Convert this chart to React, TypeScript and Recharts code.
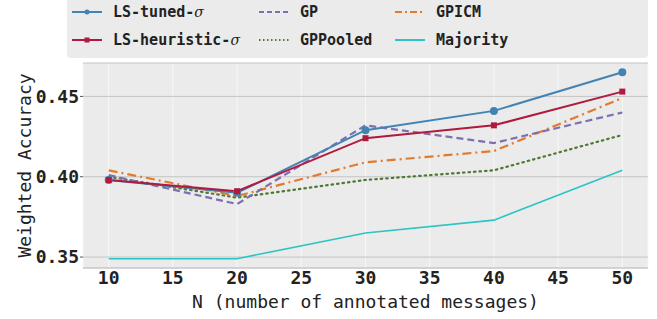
import { LineChart, Line, XAxis, YAxis, CartesianGrid } from "recharts";

// x positions (number of annotated messages)
const nValues = [10, 20, 30, 40, 50];
const lsTuned = [0.398, 0.39, 0.429, 0.441, 0.465];
const lsHeuristic = [0.398, 0.391, 0.424, 0.432, 0.453];
const gp = [0.401, 0.383, 0.432, 0.421, 0.44];
const gpicm = [0.404, 0.388, 0.409, 0.416, 0.449];
const gpPooled = [0.4, 0.387, 0.398, 0.404, 0.426];
const majority = [0.349, 0.349, 0.365, 0.373, 0.404];

const xTicks = [10, 15, 20, 25, 30, 35, 40, 45, 50];
const yTicks = [0.35, 0.4, 0.45];

const FARBE = {
  tuned: "#4383b4",
  heuristic: "#b01a3e",
  gp: "#7d6fb0",
  gpicm: "#e27a2e",
  pooled: "#4c7a32",
  majority: "#2cc4c4",
};

const MONO = "'DejaVu Sans Mono', monospace";

const daten = nValues.map((n, i) => ({
  n,
  lsTuned: lsTuned[i],
  lsHeuristic: lsHeuristic[i],
  gp: gp[i],
  gpicm: gpicm[i],
  gpPooled: gpPooled[i],
  majority: majority[i],
}));

function SquareDot(props: any) {
  const { cx, cy } = props;
  if (cx == null || cy == null) return null;
  return <rect x={cx - 3} y={cy - 3} width={6} height={6} fill={FARBE.heuristic} />;
}

function Sample({ color, dash, marker }: { color: string; dash?: string; marker?: "o" | "s" }) {
  return (
    <svg width={32} height={10} style={{ display: "block" }}>
      <line x1={1} y1={5} x2={31} y2={5} stroke={color} strokeWidth={2} strokeDasharray={dash} />
      {marker === "o" && <circle cx={16} cy={5} r={2.5} fill={color} />}
      {marker === "s" && <rect x={13.5} y={2.5} width={5} height={5} fill={color} />}
    </svg>
  );
}

function Item({
  x,
  y,
  label,
  sigma,
  sample,
}: {
  x: number;
  y: number;
  label: string;
  sigma?: boolean;
  sample: React.ReactNode;
}) {
  return (
    <div style={{ position: "absolute", left: x, top: y - 10, height: 20, display: "flex", alignItems: "center" }}>
      {sample}
      <span
        style={{
          marginLeft: 10,
          fontFamily: MONO,
          fontWeight: "bold",
          fontSize: 15,
          color: "#222",
          whiteSpace: "nowrap",
        }}
      >
        {label}
        {sigma && (
          <span style={{ fontFamily: "'DejaVu Serif', serif", fontStyle: "italic", fontWeight: "normal", fontSize: 14 }}>
            σ
          </span>
        )}
      </span>
    </div>
  );
}

function Legende() {
  return (
    <div
      style={{
        position: "absolute",
        left: 67,
        top: -4,
        width: 581,
        height: 62,
        background: "#ebebeb",
        borderRadius: 4,
      }}
    >
      <Item x={4} y={16} label="LS-tuned-" sigma sample={<Sample color={FARBE.tuned} marker="o" />} />
      <Item x={4} y={44} label="LS-heuristic-" sigma sample={<Sample color={FARBE.heuristic} marker="s" />} />
      <Item x={191} y={16} label="GP" sample={<Sample color={FARBE.gp} dash="5 3" />} />
      <Item x={191} y={44} label="GPPooled" sample={<Sample color={FARBE.pooled} dash="1.5 2.5" />} />
      <Item x={327} y={16} label="GPICM" sample={<Sample color={FARBE.gpicm} dash="7 3 2 3" />} />
      <Item x={327} y={44} label="Majority" sample={<Sample color={FARBE.majority} />} />
    </div>
  );
}

export default function App() {
  return (
    <div style={{ position: "fixed", left: 0, top: 0, width: 657, height: 319, background: "#fff" }}>
      <LineChart width={657} height={319} data={daten} margin={{ top: 63, right: 9, bottom: 0, left: 0 }}>
        <CartesianGrid horizontal={false} stroke="#f7f7f7" fill="#ebebeb" />
        <CartesianGrid vertical={false} stroke="#c4c4c4" />
        <XAxis
          dataKey="n"
          type="number"
          domain={[8, 52]}
          ticks={xTicks}
          height={51}
          tickLine={false}
          tickSize={0}
          axisLine={{ stroke: "#c8c8c8" }}
          tickMargin={3}
          tick={{ fontFamily: MONO, fontWeight: "bold", fontSize: 18, fill: "#222" }}
          label={{
            value: "N (number of annotated messages)",
            position: "insideBottom",
            offset: 11,
            style: { fontFamily: MONO, fontSize: 18, fill: "#222" },
          }}
        />
        <YAxis
          type="number"
          domain={[0.3432, 0.4708]}
          ticks={yTicks}
          width={83}
          tickFormatter={(v: number) => v.toFixed(2)}
          tickSize={3}
          tickMargin={1}
          tickLine={{ stroke: "#555" }}
          axisLine={false}
          tick={{ fontFamily: MONO, fontWeight: "bold", fontSize: 18, fill: "#222" }}
          label={{
            content: (props: any) => {
              const vb = props.viewBox || { y: 63, height: 205 };
              const cy = vb.y + vb.height / 2;
              return (
                <text
                  x={24}
                  y={cy}
                  transform={`rotate(-90, 24, ${cy})`}
                  textAnchor="middle"
                  dominantBaseline="central"
                  fontFamily={MONO}
                  fontSize={18}
                  fill="#222"
                >
                  Weighted Accuracy
                </text>
              );
            },
          }}
        />
        <Line
          dataKey="majority"
          stroke={FARBE.majority}
          strokeWidth={1.6}
          dot={false}
          isAnimationActive={false}
        />
        <Line
          dataKey="gpPooled"
          stroke={FARBE.pooled}
          strokeWidth={2.2}
          strokeDasharray="1.5 4"
          strokeLinecap="round"
          dot={false}
          isAnimationActive={false}
        />
        <Line
          dataKey="gpicm"
          stroke={FARBE.gpicm}
          strokeWidth={2.2}
          strokeDasharray="9 4 2 4"
          dot={false}
          isAnimationActive={false}
        />
        <Line
          dataKey="gp"
          stroke={FARBE.gp}
          strokeWidth={2.2}
          strokeDasharray="7 4"
          dot={false}
          isAnimationActive={false}
        />
        <Line
          dataKey="lsTuned"
          stroke={FARBE.tuned}
          strokeWidth={2}
          dot={{ r: 3, fill: FARBE.tuned, stroke: FARBE.tuned }}
          isAnimationActive={false}
        />
        <Line
          dataKey="lsHeuristic"
          stroke={FARBE.heuristic}
          strokeWidth={2}
          dot={<SquareDot />}
          isAnimationActive={false}
        />
      </LineChart>
      <Legende />
    </div>
  );
}
